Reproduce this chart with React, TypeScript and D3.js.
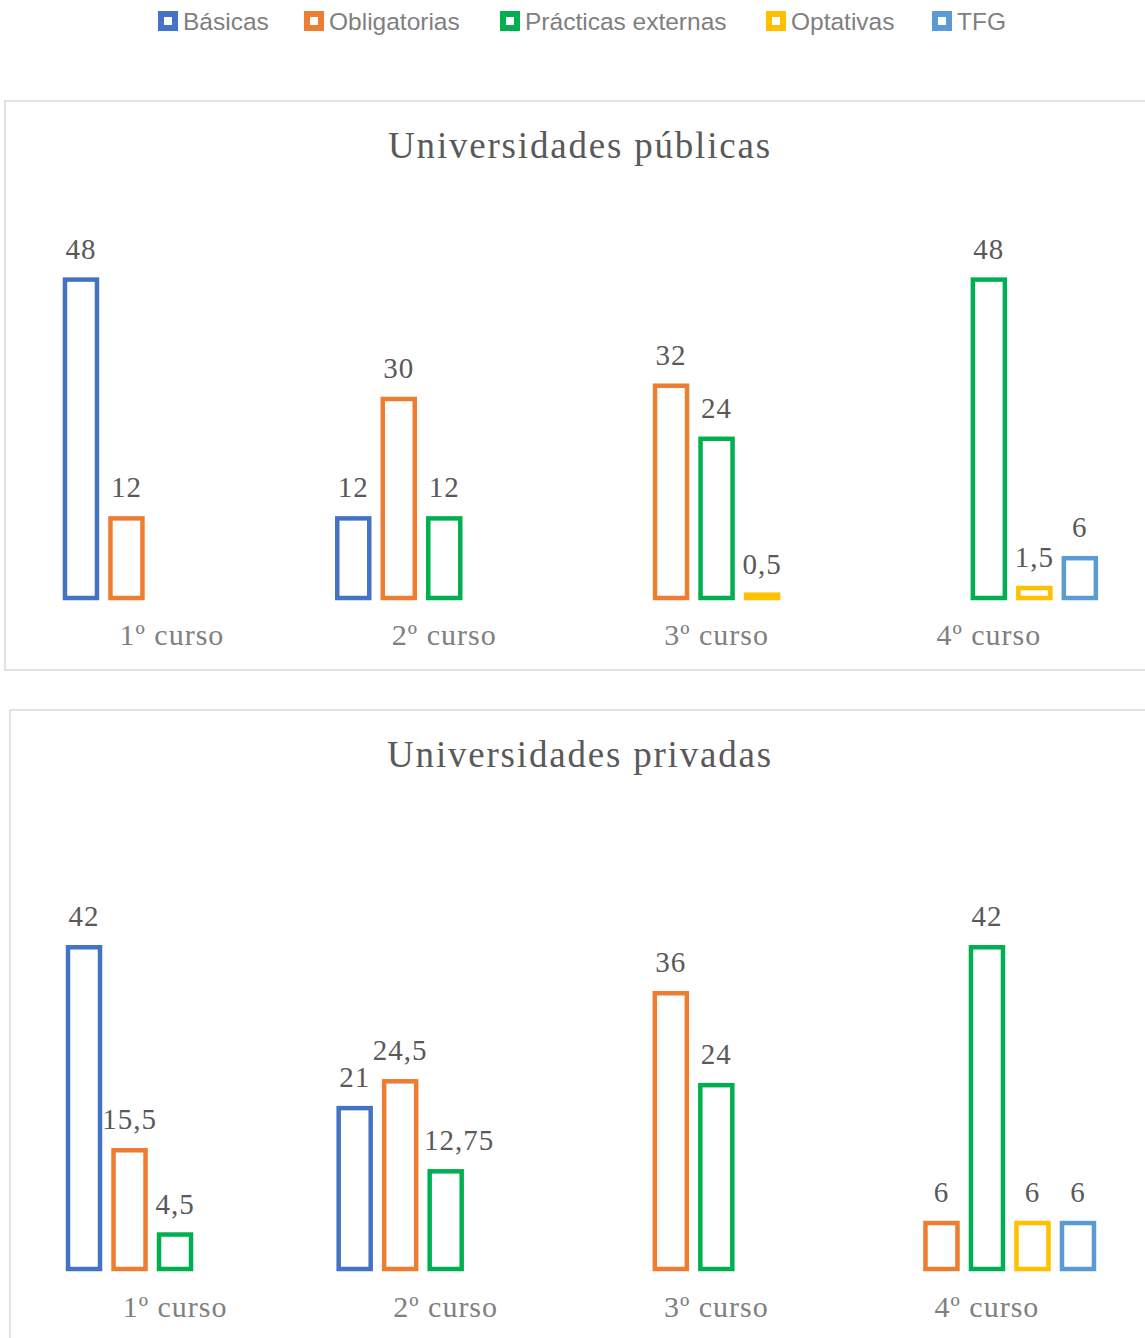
import React from "react";
import * as d3 from "d3";

const categories = ["1º curso", "2º curso", "3º curso", "4º curso"];
const seriesNames = ["Básicas", "Obligatorias", "Prácticas externas", "Optativas", "TFG"];
const seriesColors = ["#4472C4", "#ED7D31", "#00B050", "#FFC000", "#5B9BD5"];

// Universidades públicas
const pubBasicas = [48, 12, null, null];
const pubObligatorias = [12, 30, 32, null];
const pubPracticas = [null, 12, 24, 48];
const pubOptativas = [null, null, 0.5, 1.5];
const pubTFG = [null, null, null, 6];

// Universidades privadas
const privBasicas = [42, 21, null, null];
const privObligatorias = [15.5, 24.5, 36, 6];
const privPracticas = [4.5, 12.75, 24, 42];
const privOptativas = [null, null, null, 6];
const privTFG = [null, null, null, 6];

const panels = [
  {
    title: "Universidades públicas",
    series: [pubBasicas, pubObligatorias, pubPracticas, pubOptativas, pubTFG],
    box: { x: 5, y: 101, w: 1160, h: 569 },
    titleY: 158,
    yMax: 60,
    yRange: [598, 200],
    xRange: [35.8, 1125],
    catY: 645,
  },
  {
    title: "Universidades privadas",
    series: [privBasicas, privObligatorias, privPracticas, privOptativas, privTFG],
    box: { x: 10, y: 710, w: 1160, h: 660 },
    titleY: 767,
    yMax: 50,
    yRange: [1269, 886],
    xRange: [39.7, 1122.3],
    catY: 1317,
  },
];

const legendX = [158, 304, 500, 766, 932];
const fmt = (v: number) => String(v).replace(".", ",");
const LABEL_FS = 29;
const LABEL_LS = 1;
const labelWidth = (s: string) =>
  s.split("").reduce((a, ch) => a + (ch === "," ? 0.25 : 0.5) * LABEL_FS, 0) +
  (s.length - 1) * LABEL_LS;

function Panel({ p }: { p: (typeof panels)[number] }) {
  const x0 = d3.scaleBand<string>().domain(categories).range(p.xRange as [number, number]);
  const bw = x0.bandwidth();
  const inner = 45.5 * seriesNames.length;
  const x1 = d3
    .scaleBand<string>()
    .domain(seriesNames)
    .range([(bw - inner) / 2, (bw + inner) / 2]);
  const y = d3.scaleLinear().domain([0, p.yMax]).range(p.yRange as [number, number]);
  const barW = 32;
  const sw = 4.5;
  const serif = "'Liberation Serif', 'Times New Roman', serif";
  return (
    <g>
      <rect
        x={p.box.x}
        y={p.box.y}
        width={p.box.w}
        height={p.box.h}
        fill="#fff"
        stroke="#d9d9d9"
        strokeWidth={1.5}
      />
      <text
        x={580}
        y={p.titleY}
        textAnchor="middle"
        fontFamily={serif}
        fontSize={37}
        letterSpacing={1.8}
        fill="#595959"
      >
        {p.title}
      </text>
      {categories.map((c, ci) => {
        const cxOf = (si: number) =>
          (x0(c) as number) + (x1(seriesNames[si]) as number) + x1.bandwidth() / 2;
        return (
          <g key={c}>
            {p.series.map((vals, si) => {
              const v = vals[ci];
              if (v == null) return null;
              const cx = cxOf(si);
              const label = fmt(v);
              const lw = labelWidth(label);
              const baseline = y(v) - 21;
              let lx = cx;
              // avoid overlap with a taller neighbouring bar on the left
              if (si > 0) {
                const pv = p.series[si - 1][ci];
                if (pv != null && y(pv) - sw / 2 < baseline) {
                  const right = cxOf(si - 1) + barW / 2 + sw / 2;
                  if (cx - lw / 2 < right) lx = right + 6 + lw / 2;
                }
              }
              return (
                <g key={si}>
                  <rect
                    x={cx - barW / 2}
                    y={y(v)}
                    width={barW}
                    height={y(0) - y(v)}
                    fill="#fff"
                    stroke={seriesColors[si]}
                    strokeWidth={sw}
                  />
                  <text
                    x={lx}
                    y={baseline}
                    textAnchor="middle"
                    fontFamily={serif}
                    fontSize={LABEL_FS}
                    letterSpacing={LABEL_LS}
                    fill="#595959"
                  >
                    {label}
                  </text>
                </g>
              );
            })}
            <text
              x={(x0(c) as number) + bw / 2}
              y={p.catY}
              textAnchor="middle"
              fontFamily={serif}
              fontSize={30}
              letterSpacing={1}
              fill="#808080"
            >
              {c}
            </text>
          </g>
        );
      })}
    </g>
  );
}

export default function App() {
  return (
    <svg
      width={1145}
      height={1338}
      style={{ position: "absolute", left: 0, top: 0, background: "#fff" }}
    >
      <rect width={1145} height={1338} fill="#fff" />
      {seriesNames.map((s, i) => (
        <g key={s}>
          <rect
            x={legendX[i] + 3}
            y={14}
            width={14}
            height={14}
            fill="#fff"
            stroke={seriesColors[i]}
            strokeWidth={6}
          />
          <text
            x={legendX[i] + 25}
            y={30}
            fontFamily="'Liberation Sans', Arial, sans-serif"
            fontSize={24.5}
            fill="#7f7f7f"
          >
            {s}
          </text>
        </g>
      ))}
      {panels.map((p) => (
        <Panel key={p.title} p={p} />
      ))}
    </svg>
  );
}
